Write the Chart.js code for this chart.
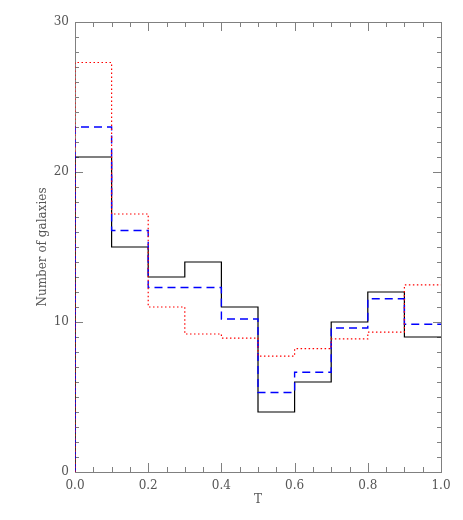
<!DOCTYPE html>
<html>
<head>
<meta charset="utf-8">
<script src="https://cdn.jsdelivr.net/npm/chart.js@4"></script>
<style>
  html, body { margin: 0; padding: 0; background: #fff; }
  #wrap { width: 463px; height: 520px; }
</style>
</head>
<body>
<div id="wrap"><canvas id="chart" width="463" height="520"></canvas></div>
<script>
// left edges of the T bins
const binEdges = [0.0, 0.1, 0.2, 0.3, 0.4, 0.5, 0.6, 0.7, 0.8, 0.9];
const binEnd = 1.0;
const solidCounts = [21, 15, 13, 14, 11, 4, 6, 10, 12, 9];
const dashedCounts = [23.0, 16.1, 12.3, 12.3, 10.2, 5.3, 6.65, 9.6, 11.55, 9.85];
const dottedCounts = [27.3, 17.2, 11.0, 9.2, 8.93, 7.73, 8.22, 8.87, 9.33, 12.47];
const xTicks = [0.0, 0.2, 0.4, 0.6, 0.8, 1.0];
const yTicks = [0, 10, 20, 30];

const axisGray = '#808080';
const textGray = '#555555';

function toSteps(counts) {
  const pts = [{ x: binEdges[0], y: 0 }];
  binEdges.forEach((e, i) => pts.push({ x: e, y: counts[i] }));
  pts.push({ x: binEnd, y: counts[counts.length - 1] });
  return pts;
}

// IDL style box with ticks pointing inwards
const boxTicks = {
  id: 'boxTicks',
  beforeDatasetsDraw(chart) {
    const { ctx, chartArea: a, scales } = chart;
    const xs = scales.x, ys = scales.y;
    ctx.save();
    ctx.strokeStyle = axisGray;
    ctx.lineWidth = 1;
    ctx.strokeRect(Math.round(a.left) + 0.5, Math.round(a.top) + 0.5,
      Math.round(a.right - a.left), Math.round(a.bottom - a.top));
    ctx.beginPath();
    for (let v = 0; v <= 1.0001; v += 0.05) {
      const px = Math.round(xs.getPixelForValue(v)) + 0.5;
      const major = Math.abs(v / 0.2 - Math.round(v / 0.2)) < 1e-6;
      const len = major ? 9 : 5;
      ctx.moveTo(px, a.bottom); ctx.lineTo(px, a.bottom - len);
      ctx.moveTo(px, a.top); ctx.lineTo(px, a.top + len);
    }
    for (let v = 0; v <= 30; v += 1) {
      const py = Math.round(ys.getPixelForValue(v)) + 0.5;
      const len = v % 10 === 0 ? 8 : 4;
      ctx.moveTo(a.left, py); ctx.lineTo(a.left + len, py);
      ctx.moveTo(a.right, py); ctx.lineTo(a.right - len, py);
    }
    ctx.stroke();
    ctx.restore();
  }
};

const tickFont = { family: 'DejaVu Serif', size: 12 };

new Chart(document.getElementById('chart').getContext('2d'), {
  type: 'line',
  data: {
    datasets: [
      {
        label: 'dotted',
        data: toSteps(dottedCounts),
        borderColor: '#ff0000',
        borderWidth: 1.2,
        borderDash: [1.5, 2.5],
        stepped: true,
        pointRadius: 0,
        fill: false
      },
      {
        label: 'dashed',
        data: toSteps(dashedCounts),
        borderColor: '#0000ff',
        borderWidth: 1.4,
        borderDash: [8, 5],
        stepped: true,
        pointRadius: 0,
        fill: false
      },
      {
        label: 'solid',
        data: toSteps(solidCounts),
        borderColor: '#000000',
        borderWidth: 1.2,
        stepped: true,
        pointRadius: 0,
        fill: false
      }
    ]
  },
  options: {
    responsive: false,
    animation: false,
    layout: { padding: { left: 36, right: 22, top: 22, bottom: 13 } },
    plugins: { legend: { display: false }, tooltip: { enabled: false } },
    scales: {
      x: {
        type: 'linear',
        min: 0,
        max: 1,
        afterBuildTicks: s => { s.ticks = xTicks.map(v => ({ value: v })); },
        afterFit: s => { s.height = 35; },
        grid: { display: false, drawTicks: false },
        border: { display: false },
        ticks: {
          padding: 7,
          color: textGray,
          font: tickFont,
          maxRotation: 0,
          callback: v => Number(v).toFixed(1)
        },
        title: {
          display: true,
          text: 'T',
          color: textGray,
          font: { family: 'DejaVu Serif', size: 12 },
          padding: { top: 2, bottom: 0 }
        }
      },
      y: {
        type: 'linear',
        min: 0,
        max: 30,
        afterBuildTicks: s => { s.ticks = yTicks.map(v => ({ value: v })); },
        afterFit: s => { s.width = 39; },
        grid: { display: false, drawTicks: false },
        border: { display: false },
        ticks: {
          padding: 6,
          color: textGray,
          font: tickFont
        },
        title: {
          display: true,
          text: 'Number of galaxies',
          color: textGray,
          font: { family: 'DejaVu Serif', size: 12 },
          padding: { top: 0, bottom: 4 }
        }
      }
    }
  },
  plugins: [boxTicks]
});
</script>
</body>
</html>
